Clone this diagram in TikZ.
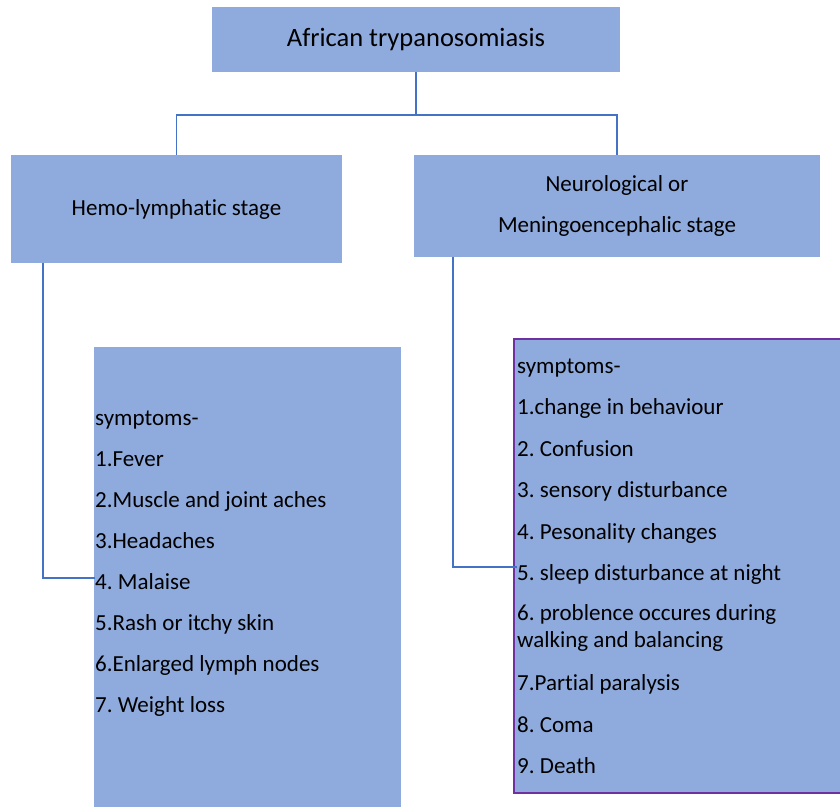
\documentclass[tikz,border=0pt]{standalone}
\usepackage{fontspec}
\setmainfont[Ligatures=NoCommon]{Carlito}
\usepackage{xcolor}
\usetikzlibrary{positioning}
\definecolor{stagefill}{RGB}{143, 170, 220}
\definecolor{linkblue}{RGB}{68, 114, 196}
\definecolor{listpurple}{RGB}{112, 48, 160}
\frenchspacing

\begin{document}
\begin{tikzpicture}[
  x=1pt, y=-1pt,
  stagebox/.style={fill=stagefill, inner sep=0, align=center, font=\fontsize{23}{41}\selectfont},
  listbox/.style={fill=stagefill, inner sep=0},
  symtext/.style={anchor=base west, inner sep=0, font=\fontsize{23}{28}\selectfont},
  link/.style={line width=1.5pt, draw=linkblue},
]

\useasboundingbox (0, 0) rectangle (840, 807);

% ==================== Disease ====================
\node[stagebox, minimum width=408pt, minimum height=65pt, font=\fontsize{26.5}{30}\selectfont] (disease) at (416, 39.5) {African trypanosomiasis};

% ==================== Stages ====================
\node[stagebox, minimum width=331pt, minimum height=108pt] (hemo) at (176.5, 209) {Hemo-lymphatic stage};
\node[stagebox, minimum width=406pt, minimum height=102pt] (neuro) at (617, 206) {Neurological or\\Meningoencephalic stage};

\draw[link] (disease.south) -- ++(0, 43) -| (hemo.north);
\draw[link] (disease.south) -- ++(0, 43) -| (neuro.north);

% ==================== Hemo-lymphatic symptoms ====================
\node[listbox, minimum width=307pt, minimum height=460pt] (hemosym) at (247.5, 577) {};
\foreach \ypos/\txt [count=\i] in {425/symptoms-, 466/1.Fever, 507/2.Muscle and joint aches,
    548/3.Headaches, 589/4. Malaise, 630/5.Rash or itchy skin, 671/6.Enlarged lymph nodes, 712/7. Weight loss}
  \node[symtext] (hemo-\i) at (95, \ypos) {\txt};

\draw[link] ([xshift=32pt]hemo.south west) |- ([yshift=11pt]hemo-5.base west);

% ==================== Meningoencephalic symptoms ====================
\node[listbox, draw=listpurple, line width=1.5pt, minimum width=328pt, minimum height=454pt] (neurosym) at (678, 566) {};
\foreach \ypos/\txt [count=\i] in {373/symptoms-, 414/1.change in behaviour, 456/2. Confusion,
    497/3. sensory disturbance, 539/4. Pesonality changes, 580/5. sleep disturbance at night,
    620/6. problence occures during, 647/walking and balancing, 690/7.Partial paralysis,
    732/8. Coma, 773/9. Death}
  \node[symtext] (neuro-\i) at (517, \ypos) {\txt};

\draw[link] ([xshift=39pt]neuro.south west) |- ([yshift=13pt]neuro-6.base west);

\end{tikzpicture}
\end{document}
